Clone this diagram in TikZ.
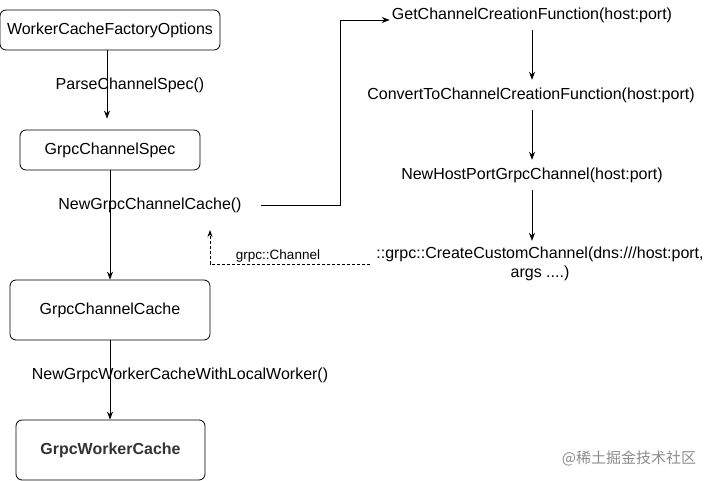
\documentclass[tikz,border=0pt]{standalone}
\usepackage{fontspec}
\setmainfont{Liberation Sans}
\newfontfamily\cjkfont{Noto Sans CJK SC}
\usetikzlibrary{arrows.meta,calc}
\begin{document}
\begin{tikzpicture}[x=1pt,y=-1pt,
  box/.style={draw, rounded corners=6pt, line width=0.8pt, inner sep=0pt},
  lbl/.style={inner sep=0pt, minimum height=20pt, font=\fontsize{16}{19}\selectfont},
  small/.style={inner sep=0pt, font=\fontsize{13.5}{16}\selectfont},
  arr/.style={-{Stealth[length=8pt,width=6pt]}, line width=0.8pt},
  dsh/.style={dashed, dash pattern=on 3pt off 2pt, line width=0.7pt, -{Stealth[length=7pt,width=5pt]}}
]
\useasboundingbox (0,0) rectangle (711,481);
% left column boxes
\node[box, minimum width=220pt, minimum height=40pt] (wcfo) at (110,30) {\fontsize{16}{19}\selectfont WorkerCacheFactoryOptions};
\node[box, minimum width=180pt, minimum height=40pt] (gcs) at (110,150) {\fontsize{16}{19}\selectfont GrpcChannelSpec};
\node[box, minimum width=200pt, minimum height=60pt] (gcc) at (110,310) {\fontsize{16}{19}\selectfont GrpcChannelCache};
\node[box, minimum width=189pt, minimum height=60pt] (gwc) at (110.5,450) {\fontsize{16}{19}\selectfont\bfseries\color[HTML]{333333}GrpcWorkerCache};
% edge labels
\node[lbl] (pcs) at (130,85) {ParseChannelSpec()};
\node[lbl] (ngcc) at (150,205) {NewGrpcChannelCache()};
\node[lbl] (ngwc) at (180,375) {NewGrpcWorkerCacheWithLocalWorker()};
% right column
\node[lbl] (get) at (532,15) {GetChannelCreationFunction(host:port)};
\node[lbl] (conv) at (531,95) {ConvertToChannelCreationFunction(host:port)};
\node[lbl] (nhp) at (532,175) {NewHostPortGrpcChannel(host:port)};
\node[lbl, align=center] (ccc) at (540,264) {::grpc::CreateCustomChannel(dns:///host:port,\\args ....)};
\node[small] (gch) at (278,256) {grpc::Channel};
% watermark
\node[inner sep=0pt, text=black!45, font=\cjkfont\fontsize{15}{17}\selectfont] (wm) at (629,458) {@稀土掘金技术社区};
% connectors
\draw[arr, shorten >=11pt] (wcfo.south -| 107,0) -- (gcs.north -| 107,0);
\draw[arr] (gcs.south) -- (gcc.north);
\draw[arr] (gcc.south) -- (gwc.north -| gcc.south);
\coordinate (elb) at (340,20);
\draw[arr, shorten <=19pt, shorten >=2pt] (ngcc.east) -| (elb) -- (get.west |- elb);
\draw[arr, shorten <=5pt, shorten >=5pt] (get.south) -- (get.south |- conv.north);
\draw[arr, shorten <=5pt, shorten >=5pt] (get.south |- conv.south) -- (get.south |- nhp.north);
\draw[arr, shorten <=5pt, shorten >=6pt] (get.south |- nhp.south) -- (get.south |- ccc.north);
\coordinate (ret) at (210,230);
\draw[dsh, shorten <=6pt] (ccc.west |- 0,264) -| (ret);
\end{tikzpicture}
\end{document}
